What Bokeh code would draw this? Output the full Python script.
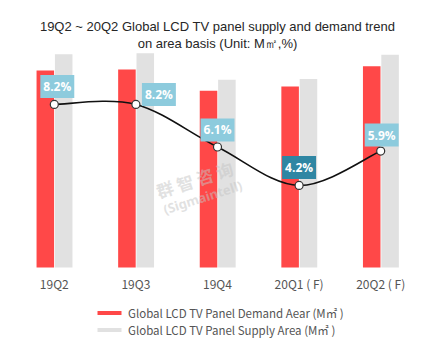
from bokeh.plotting import figure
from bokeh.layouts import column
from bokeh.models import Range1d, FixedTicker, Label, Title, Legend, LegendItem, Spacer
from bokeh.embed import file_html
from bokeh.resources import INLINE

# ---- data ----
quarters = ["19Q2", "19Q3", "19Q4", "20Q1 ( F)", "20Q2 ( F)"]
demand = [43.8, 44.0, 39.3, 40.2, 44.7]      # M m2
supply = [47.4, 47.6, 41.7, 41.9, 47.3]      # M m2
gap_pct = [8.2, 8.2, 6.1, 4.2, 5.9]          # %
gap_labels = ["8.2%", "8.2%", "6.1%", "4.2%", "5.9%"]

# ---- style ----
RED = "#FF4848"
GRAY = "#E1E1E1"
LBL_LIGHT = "#8DCBDD"
LBL_DARK = "#2F86A3"
label_offsets = [(3, 18), (23, 10), (0, 17), (0, 18), (1, 16)]
label_colors = [LBL_LIGHT, LBL_LIGHT, LBL_LIGHT, LBL_DARK, LBL_LIGHT]

FW, FH = 408, 305          # frame size in px
PLOT_PX = 217              # px from frame top to the bar baseline
PX_PER_UNIT = 4.5
PX_PER_PCT = 20.25
PCT_SHIFT = 3 / PX_PER_PCT # percent axis zero sits 3px under the bar baseline
Y_END = PLOT_PX / PX_PER_UNIT
Y_START = -(FH - PLOT_PX) / PX_PER_UNIT

xs = list(range(len(quarters)))

p = figure(frame_width=FW, frame_height=FH, x_range=Range1d(-0.5, 4.5),
           y_range=Range1d(Y_START, Y_END),
           output_backend="svg", toolbar_location=None,
           min_border_left=13, min_border_right=4, min_border_top=0, min_border_bottom=0)
p.extra_y_ranges = {"pct": Range1d(Y_START * PX_PER_UNIT / PX_PER_PCT + PCT_SHIFT,
                                   Y_END * PX_PER_UNIT / PX_PER_PCT + PCT_SHIFT)}
p.outline_line_color = None
p.grid.visible = False
p.yaxis.visible = False
p.background_fill_color = "white"
p.border_fill_color = "white"

# titles (first added is closest to plot)
for txt in ["on area basis (Unit: M㎡,%)",
            "19Q2 ~ 20Q2 Global LCD TV panel supply and demand trend"]:
    p.add_layout(Title(text=txt, align="center", text_font="Liberation Sans",
                       text_font_size="13px", text_font_style="normal",
                       text_color="#262626", standoff=0, offset=0), "above")

r_d = p.vbar(x=[x - 0.11 for x in xs], top=demand, width=0.215, bottom=0,
             fill_color=RED, line_color=None)
r_s = p.vbar(x=[x + 0.115 for x in xs], top=supply, width=0.215, bottom=0,
             fill_color=GRAY, line_color=None)

# smooth curve through the percentage points (cubic Bezier segments)
pts = list(zip(xs, gap_pct))
x0, y0, x1, y1, cx0, cy0, cx1, cy1 = ([] for _ in range(8))
n = len(pts)
for i in range(n - 1):
    pa = pts[i - 1] if i > 0 else pts[i]
    pb = pts[i]
    pc = pts[i + 1]
    pd = pts[i + 2] if i + 2 < n else pts[i + 1]
    x0.append(pb[0]); y0.append(pb[1]); x1.append(pc[0]); y1.append(pc[1])
    cx0.append(pb[0] + (pc[0] - pa[0]) / 6); cy0.append(pb[1] + (pc[1] - pa[1]) / 6)
    cx1.append(pc[0] - (pd[0] - pb[0]) / 6); cy1.append(pc[1] - (pd[1] - pb[1]) / 6)
p.bezier(x0=x0, y0=y0, x1=x1, y1=y1, cx0=cx0, cy0=cy0, cx1=cx1, cy1=cy1,
         line_color="#111111", line_width=1.6, y_range_name="pct")
p.scatter(xs, gap_pct, size=8, fill_color="white", line_color="#333333",
          line_width=1.2, y_range_name="pct")

# watermark
p.add_layout(Label(x=1.72, y=19.6, text="群 智 咨 询", angle=0.31, text_align="center",
                   text_baseline="middle", text_font="Noto Sans CJK SC", text_font_size="17px",
                   text_font_style="bold", text_color="#c4c4c4", text_alpha=0.5))
p.add_layout(Label(x=1.82, y=15.6, text="(Sigmaintell)", angle=0.31, text_align="center",
                   text_baseline="middle", text_font="Noto Sans", text_font_size="13px",
                   text_font_style="bold", text_color="#c4c4c4", text_alpha=0.5))

# data labels with shadow
for x, v, t, (dx, dy), c in zip(xs, gap_pct, gap_labels, label_offsets, label_colors):
    p.add_layout(Label(x=x, y=v, y_range_name="pct", text=t, x_offset=dx + 2, y_offset=dy - 2,
                       text_align="center", text_baseline="middle", text_alpha=0,
                       text_font="Open Sans", text_font_size="12px", text_font_style="bold",
                       background_fill_color="#9a9a9a", background_fill_alpha=0.45, padding=3))
    p.add_layout(Label(x=x, y=v, y_range_name="pct", text=t, x_offset=dx, y_offset=dy,
                       text_align="center", text_baseline="middle", text_color="white",
                       text_font="Open Sans", text_font_size="12px", text_font_style="bold",
                       background_fill_color=c, padding=3))

# x axis, fixed at the bar baseline
xa = p.xaxis[0]
xa.fixed_location = 0
xa.ticker = FixedTicker(ticks=xs)
xa.major_label_overrides = {x: q for x, q in zip(xs, quarters)}
xa.axis_line_color = None
xa.major_tick_line_color = None
xa.minor_tick_line_color = None
xa.major_tick_out = 0
xa.major_label_standoff = 7
xa.major_label_text_font = "Noto Sans CJK SC"
xa.major_label_text_font_size = "12px"
xa.major_label_text_color = "#555555"

legend = Legend(items=[LegendItem(label="Global LCD TV Panel Demand Aear (M㎡ )", renderers=[r_d]),
                       LegendItem(label="Global LCD TV Panel Supply Area (M㎡ )", renderers=[r_s])],
                location=(81, 17), orientation="vertical", glyph_width=30, glyph_height=5,
                label_height=17, spacing=0, padding=0, margin=0, border_line_color=None,
                background_fill_alpha=0, label_text_font="Noto Sans CJK SC",
                label_text_font_size="11.5px", label_text_color="#555555", label_standoff=4)
p.add_layout(legend)

layout = column(Spacer(height=16, width=425), p, spacing=0)
open("out.html", "w").write(file_html(layout, INLINE))
